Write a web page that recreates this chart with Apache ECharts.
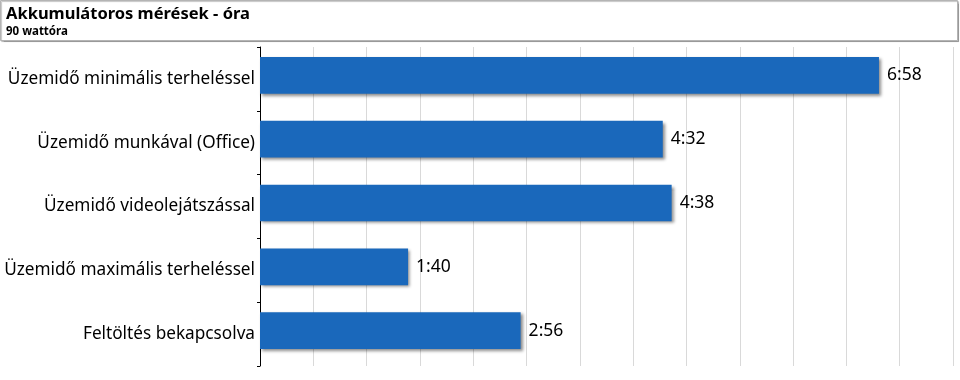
<!DOCTYPE html>
<html><head><meta charset="utf-8">
<script src="https://cdn.jsdelivr.net/npm/echarts@6/dist/echarts.min.js"></script>
<style>html,body{margin:0;padding:0;background:#fff}#c{width:960px;height:380px}</style>
</head><body><div id="c"></div>
<script>
const titleText = 'Akkumulátoros mérések - óra';
const subtitleText = '90 wattóra';
const categories = ['Üzemidő minimális terheléssel','Üzemidő munkával (Office)','Üzemidő videolejátszással','Üzemidő maximális terheléssel','Feltöltés bekapcsolva'];
const valueLabels = ['6:58','4:32','4:38','1:40','2:56'];
const minutes = valueLabels.map(s => { const p = s.split(':'); return (+p[0])*60 + (+p[1]); });
const axisMin = 0, axisMax = 468, axisInterval = 36;

const chart = echarts.init(document.getElementById('c'), null, {renderer:'canvas'});
const FONT = 'Noto Sans';
chart.setOption({
  animation:false,
  graphic:[{type:'rect', shape:{x:0.5,y:0.5,width:957,height:40}, style:{fill:'#fff', stroke:'#b4b4b4', lineWidth:1, shadowColor:'rgba(0,0,0,0.25)', shadowOffsetX:1, shadowOffsetY:1, shadowBlur:1}, z:-1}],
  title:{text:titleText, subtext:subtitleText, left:1, top:1, itemGap:3,
    textStyle:{fontFamily:FONT, fontSize:16.5, fontWeight:'bold', color:'#000'},
    subtextStyle:{fontFamily:FONT, fontSize:11.5, fontWeight:'bold', color:'#000'}},
  grid:[
    {left:260, right:7, top:47, bottom:14, containLabel:false},
    {left:260, right:7, top:43.5, bottom:17.5, containLabel:false}
  ],
  xAxis:[
    {type:'value', gridIndex:0, min:axisMin, max:axisMax, interval:axisInterval,
      axisLabel:{show:false}, axisLine:{show:false}, axisTick:{show:false},
      splitLine:{show:true, lineStyle:{color:'#d9d9d9', width:1}}},
    {type:'value', gridIndex:1, min:axisMin, max:axisMax, interval:axisInterval, show:false,
      splitLine:{show:false}}
  ],
  yAxis:[
    {type:'category', gridIndex:0, data:categories, inverse:true,
      axisLine:{show:true, lineStyle:{color:'#000', width:1}},
      axisTick:{show:true, length:3, lineStyle:{color:'#000'}},
      axisLabel:{fontFamily:FONT, fontSize:17.2, color:'#000', margin:5, padding:[6,0,0,0]}},
    {type:'category', gridIndex:1, data:categories, inverse:true, show:false}
  ],
  series:[{type:'bar', xAxisIndex:1, yAxisIndex:1, data:minutes, barWidth:'57.5%',
    itemStyle:{color:'#1a68bb', shadowColor:'rgba(0,0,0,0.45)', shadowBlur:3, shadowOffsetX:2, shadowOffsetY:2},
    label:{show:true, position:'right', distance:8, fontFamily:FONT, fontSize:17.5, color:'#000',
      formatter:p => valueLabels[p.dataIndex]}}]
});
</script></body></html>
